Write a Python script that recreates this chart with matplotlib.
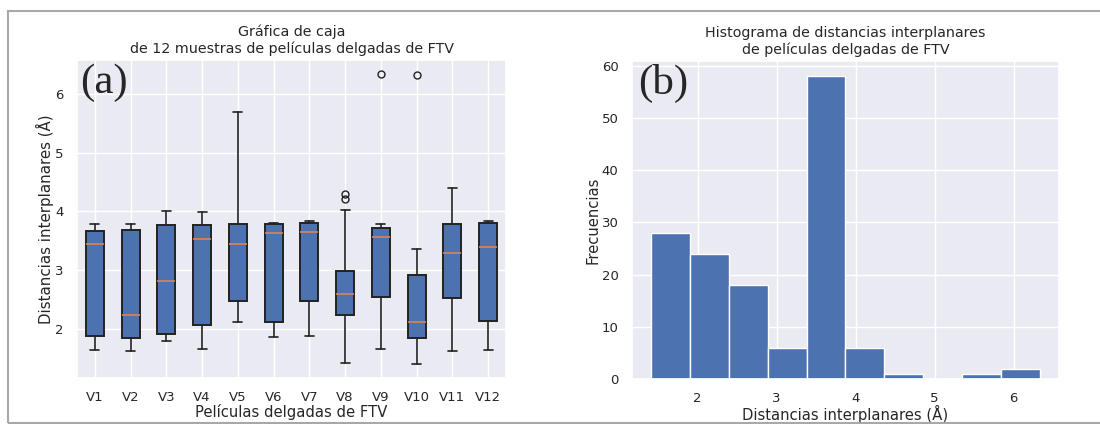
import numpy as np
import matplotlib
matplotlib.use("Agg")
import matplotlib.pyplot as plt
from matplotlib.patches import Rectangle
import seaborn as sns

# Resumen de cada muestra (Å): bigote inferior, Q1, mediana, Q3, bigote superior
muestras = ["V1", "V2", "V3", "V4", "V5", "V6", "V7", "V8", "V9", "V10", "V11", "V12"]
bigote_inf = [1.64, 1.63, 1.80, 1.65, 2.11, 1.87, 1.88, 1.42, 1.66, 1.41, 1.63, 1.64]
q1 = [1.88, 1.85, 1.91, 2.06, 2.47, 2.12, 2.47, 2.23, 2.55, 1.84, 2.52, 2.13]
mediana = [3.44, 2.24, 2.82, 3.53, 3.45, 3.64, 3.65, 2.59, 3.56, 2.12, 3.29, 3.40]
q3 = [3.66, 3.69, 3.77, 3.76, 3.78, 3.79, 3.81, 2.99, 3.72, 2.91, 3.79, 3.80]
bigote_sup = [3.79, 3.78, 4.00, 3.99, 5.69, 3.81, 3.84, 4.03, 3.79, 3.36, 4.40, 3.84]
atipicos = [[], [], [], [], [], [], [], [4.21, 4.29], [6.33], [6.32], [], []]

# Frecuencias del histograma (10 clases entre el minimo y el maximo)
frecuencias = [28, 24, 18, 6, 58, 6, 1, 0, 1, 2]

sns.set_theme()
plt.rcParams["font.family"] = ["DejaVu Sans"]

fig = plt.figure(figsize=(11, 4.24), dpi=100)
fig.patches.append(Rectangle((8 / 1100, 1.5 / 424), 1.2, 412 / 424,
                             transform=fig.transFigure, fill=False,
                             edgecolor="#a8a8a8", linewidth=1.5))

ax1 = fig.add_axes([0.070, 0.1085, 0.390, 0.750])
ax2 = fig.add_axes([0.5743, 0.106, 0.3885, 0.750])

stats = []
for i in range(len(muestras)):
    stats.append(dict(label=muestras[i], whislo=bigote_inf[i], q1=q1[i], med=mediana[i],
                      q3=q3[i], whishi=bigote_sup[i], fliers=atipicos[i]))

ax1.bxp(stats, patch_artist=True,
        boxprops=dict(facecolor="#4C72B0", edgecolor="#222222", linewidth=1.4),
        medianprops=dict(color="#DD8452", linewidth=1.2),
        whiskerprops=dict(color="#222222", linewidth=1.2),
        capprops=dict(color="#222222", linewidth=1.2),
        flierprops=dict(marker="o", markerfacecolor="none", markeredgecolor="#222222",
                        markersize=5))
ax1.set_title("Gráfica de caja\nde 12 muestras de películas delgadas de FTV",
              fontsize=10.3, pad=5)
ax1.set_xlabel("Películas delgadas de FTV", fontsize=10.6, labelpad=0)
ax1.set_ylabel("Distancias interplanares (Å)", fontsize=10.8, labelpad=1)
ax1.tick_params(labelsize=9.5)
ax1.text(0.008, 0.99, "(a)", transform=ax1.transAxes, ha="left", va="top",
         fontsize=31, family="Liberation Serif")

# Clases del histograma a partir del rango de los datos
d_min = min(bigote_inf)
d_max = max(max(f) for f in atipicos if f)
bordes = np.linspace(d_min, d_max, len(frecuencias) + 1)
centros = (bordes[:-1] + bordes[1:]) / 2
ax2.hist(centros, bins=bordes, weights=frecuencias, color="#4C72B0")
ax2.set_title("Histograma de distancias interplanares\nde películas delgadas de FTV",
              fontsize=10.3, pad=5)
ax2.set_xlabel("Distancias interplanares (Å)", fontsize=10.6, labelpad=0)
ax2.set_ylabel("Frecuencias", fontsize=10.6, labelpad=1)
ax2.tick_params(labelsize=9.5)
ax2.text(0.016, 0.99, "(b)", transform=ax2.transAxes, ha="left", va="top",
         fontsize=31, family="Liberation Serif")

fig.savefig("out.png", dpi=100)
